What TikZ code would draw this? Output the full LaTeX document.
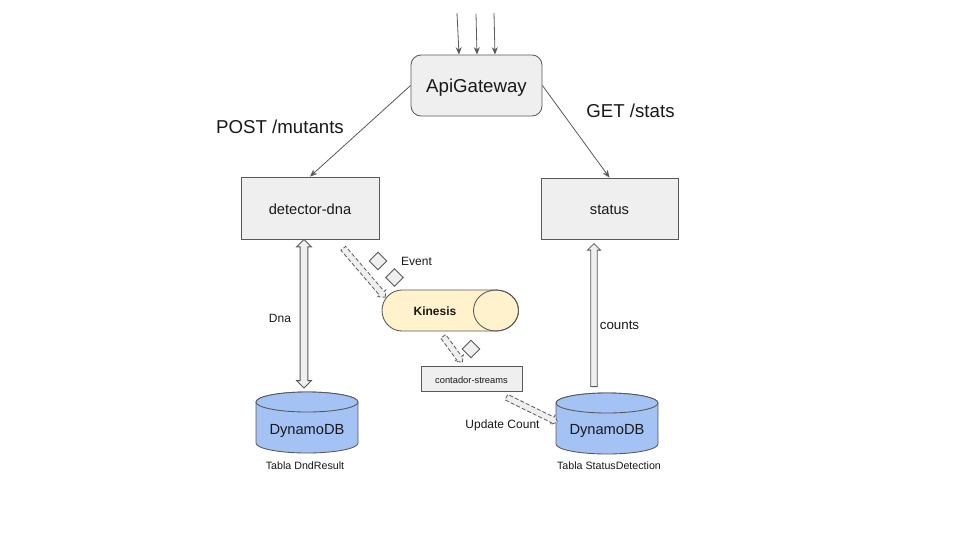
\documentclass[tikz,border=0pt]{standalone}
\usepackage{fontspec}
\setmainfont{Liberation Sans}
\usetikzlibrary{calc,arrows.meta,shapes.arrows,shapes.geometric}
\definecolor{boxfill}{HTML}{EFEFEF}
\definecolor{edge}{HTML}{595959}
\definecolor{dbfill}{HTML}{A4C2F4}
\definecolor{kinfill}{HTML}{FFF2CC}
\tikzset{
  x=0.75pt,y=-0.75pt,
  boxnode/.style={draw=edge,fill=boxfill,line width=0.65pt,inner sep=0pt,minimum width=#1*0.75pt},
  boxnode/.default=100,
  labeltext/.style={inner sep=0pt,font=\fontsize{#1}{#1}\selectfont,text=black!90},
  conn/.style={draw=edge,line width=0.6pt,-{Stealth[length=5.5pt,width=4.5pt]}},
  hollow/.style={single arrow,draw=edge,fill=boxfill,line width=0.6pt,inner sep=2.2pt,
    single arrow head extend=2.4pt},
  hollowdash/.style={hollow,dash pattern=on 3pt off 1.6pt,inner sep=2pt,single arrow head extend=1.6pt},
  dbl/.style={double arrow,draw=edge,fill=boxfill,line width=0.65pt,inner sep=2.6pt,
    double arrow head extend=2.6pt},
  diam/.style={diamond,draw=edge,fill=boxfill,line width=0.65pt,inner sep=0pt,minimum width=13.5pt,minimum height=13.5pt,aspect=1},
  dbshape/.style={draw=edge,fill=dbfill,line width=0.65pt},
}
\newcommand{\blockarrow}[3]{%
  \path let \p1=($(#3)-(#2)$),\n1={atan2(\y1,\x1)},\n2={veclen(\x1,\y1)} in
    (#2) node[#1,rotate=\n1,minimum height=\n2,anchor=tail]{};}
\newcommand{\dblarrow}[2]{%
  \path let \p1=($(#2)-(#1)$),\n1={atan2(\y1,\x1)},\n2={veclen(\x1,\y1)} in
    ($(#1)!0.5!(#2)$) node[dbl,rotate=\n1,minimum height=\n2]{};}
\newcommand{\dbdraw}[2]{%
  \draw[dbshape] (#1-51,#2+10) -- (#1-51,#2+51)
    arc[start angle=180,end angle=360,x radius=51,y radius=-10]
    -- (#1+51,#2+10) arc[start angle=0,end angle=180,x radius=51,y radius=-10] -- cycle;
  \draw[dbshape] (#1-51,#2+10) arc[start angle=180,end angle=-180,x radius=51,y radius=-10];}
\begin{document}
\begin{tikzpicture}
\useasboundingbox (0,0) rectangle (960,540);
\fill[white] (0,0) rectangle (960,540);

% boxes
\node[boxnode=131,minimum height=45.75pt,rounded corners=7.5pt,labeltext=14,text height=9.8pt,text depth=0pt] (gw) at (476.5,85.5) {ApiGateway};
\node[boxnode=138,minimum height=46.5pt,labeltext=11,text height=9.5pt,text depth=0pt] (det) at (310,208) {detector-dna};
\node[boxnode=137,minimum height=45.75pt,labeltext=11,text height=9pt,text depth=0pt] (stat) at (609.5,208.5) {status};
\node[boxnode=101,minimum height=18.75pt,labeltext=7,text height=8.2pt,text depth=0pt] (cont) at (471.5,378.5) {contador-streams};

% databases
\dbdraw{307}{392}
\node[labeltext=11] (db1) at (307,431) {DynamoDB};
\dbdraw{607}{393}
\node[labeltext=11] (db2) at (607,431) {DynamoDB};

% kinesis
\draw[draw=edge,fill=kinfill,line width=0.65pt] (402,290) -- (496,290)
   arc[start angle=90,end angle=-90,x radius=22.5,y radius=-20.5] -- (402,331)
   arc[start angle=270,end angle=90,x radius=20,y radius=-20.5] -- cycle;
\draw[draw=edge,line width=0.65pt] (496,290) arc[start angle=90,end angle=450,x radius=22.5,y radius=-20.5];
\node[labeltext=9,font=\fontsize{9}{9}\selectfont\bfseries] (kin) at (435,311.5) {Kinesis};

% free ends
\coordinate (t1) at (457,13); \coordinate (t1e) at (459,54.5);
\coordinate (t2) at (476,14); \coordinate (t2e) at (477,54.5);
\coordinate (t3) at (494,13); \coordinate (t3e) at (495,54.5);
\draw[conn] (t1) -- (t1e);
\draw[conn] (t2) -- (t2e);
\draw[conn] (t3) -- (t3e);
\draw[conn] (gw.west) -- (det.north);
\draw[conn] (gw.east) -- (stat.north);

% block arrows
\coordinate (da) at (304,239.5); \coordinate (db) at (304,388);
\dblarrow{da}{db}
\coordinate (sa) at (594,387); \coordinate (sb) at (594,244);
\blockarrow{hollow}{sa}{sb}
\coordinate (e1) at (343,248); \coordinate (e2) at (385,297);
\blockarrow{hollowdash}{e1}{e2}
\coordinate (e3) at (443,336); \coordinate (e4) at (462,362);
\blockarrow{hollowdash}{e3}{e4}
\coordinate (e5) at (506,397); \coordinate (e6) at (557,422);
\blockarrow{hollowdash}{e5}{e6}

% event diamonds
\node[diam] (d1) at (378,261) {};
\node[diam] (d2) at (394.5,277.5) {};
\node[diam] (d3) at (471,349) {};

% labels
\node[labeltext=14] (post) at (280,126.5) {POST /mutants};
\node[labeltext=14] (get) at (630.5,110.5) {GET /stats};
\node[labeltext=9] (ev) at (416.5,261) {Event};
\node[labeltext=9] (dna) at (280,318.5) {Dna};
\node[labeltext=10] (cnt) at (619.5,325.5) {counts};
\node[labeltext=9] (upd) at (502.5,425) {Update Count};
\node[labeltext=8] (t1l) at (305,466) {Tabla DndResult};
\node[labeltext=8] (t2l) at (609,466) {Tabla StatusDetection};
\end{tikzpicture}
\end{document}
